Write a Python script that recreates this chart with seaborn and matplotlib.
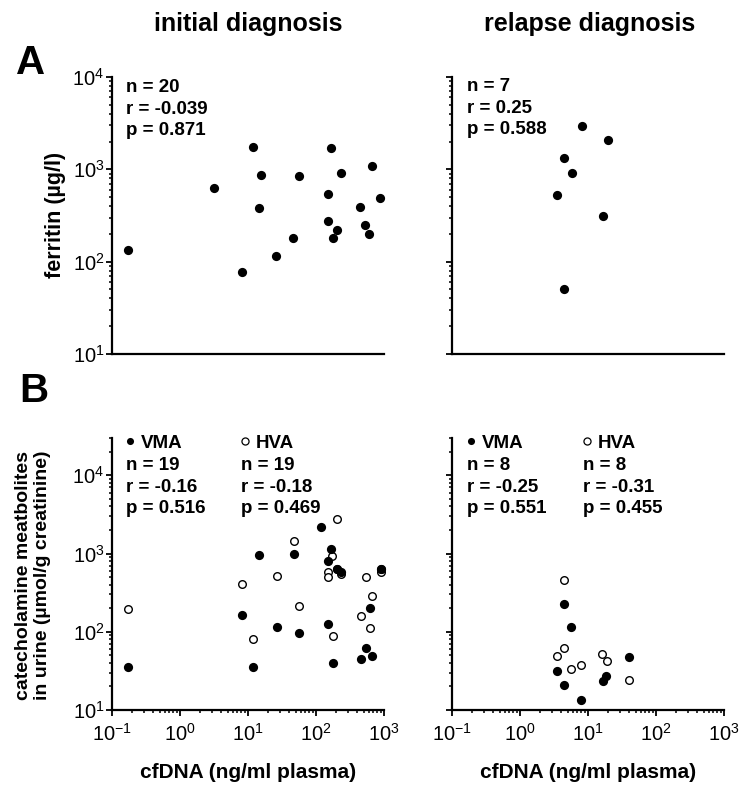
import numpy as np
import pandas as pd
import matplotlib
matplotlib.use("Agg")
import matplotlib.pyplot as plt
from matplotlib import font_manager as fm
from matplotlib.ticker import LogLocator, LogFormatterSciNotation, NullFormatter
import seaborn as sns

# ---------------- data ----------------
# A: ferritin vs cfDNA
init_fer_cfdna = [0.171, 3.2, 8.1, 11.7, 15.6, 14.6, 26, 46, 56, 148,
                  166, 148, 201, 175, 233, 446, 529, 606, 671, 881]
init_fer_value = [133, 631, 77, 1762, 869, 382, 115, 179, 855, 546,
                  1694, 276, 222, 182, 914, 394, 252, 198, 1089, 486]
rel_fer_cfdna = [8.07, 19.5, 4.49, 5.76, 3.5, 16.4, 4.49]
rel_fer_value = [2950, 2100, 1320, 908, 532, 310, 50.6]

# B: urinary catecholamine metabolites vs cfDNA
init_vma_cfdna = [0.173, 8.1, 11.7, 14.7, 26.6, 46.9, 56, 120, 168, 148,
                  201, 233, 148, 180, 903, 614, 547, 456, 671]
init_vma_value = [35.3, 164, 35.3, 968, 116, 997, 95.6, 2190, 1158, 794,
                  632, 578, 126, 39.5, 632, 203, 61.7, 44.5, 49]
init_hva_cfdna = [0.173, 8.1, 11.7, 26.6, 46.9, 56, 203, 170, 151, 151,
                  233, 180, 541, 903, 671, 456, 614, 201, 903]
init_hva_value = [195, 404, 80, 524, 1443, 214, 2750, 940, 578, 508,
                  545, 88, 508, 578, 285, 157, 111, 630, 640]
rel_vma_cfdna = [4.49, 5.68, 3.47, 4.49, 16.4, 18.4, 40, 7.9]
rel_vma_value = [229, 114, 31.3, 20.7, 23.8, 27, 48, 13.5]
rel_hva_cfdna = [4.49, 4.49, 3.47, 5.68, 7.8, 16.2, 18.8, 40]
rel_hva_value = [455, 61.7, 49, 33.6, 37.2, 51.5, 42.3, 24.5]

# correlation statistics printed in each panel
init_fer_stats = ["n = 20", "r = -0.039", "p = 0.871"]
rel_fer_stats = ["n = 7", "r = 0.25", "p = 0.588"]
init_vma_stats = ["n = 19", "r = -0.16", "p = 0.516"]
init_hva_stats = ["n = 19", "r = -0.18", "p = 0.469"]
rel_vma_stats = ["n = 8", "r = -0.25", "p = 0.551"]
rel_hva_stats = ["n = 8", "r = -0.31", "p = 0.455"]

col_titles = ["initial diagnosis", "relapse diagnosis"]
panel_letters = ["A", "B"]
x_label = "cfDNA (ng/ml plasma)"
y_label_a = "ferritin (µg/l)"
y_label_b = "catecholamine meatbolites\nin urine (µmol/g creatinine)"

# ---------------- style ----------------
sns.set_style("ticks")
have_narrow = any(f.name == "Liberation Sans Narrow" for f in fm.fontManager.ttflist)
narrow = ["Liberation Sans Narrow", "Liberation Sans"] if have_narrow else ["Liberation Sans"]
plt.rcParams["font.family"] = narrow
plt.rcParams["mathtext.default"] = "regular"
plt.rcParams["axes.unicode_minus"] = False
plt.rcParams["text.color"] = "black"
plt.rcParams["axes.labelcolor"] = "black"

tick_fs = 17 if have_narrow else 14.5
title_fs = 22 if have_narrow else 18
xlab_fs = 18 if have_narrow else 15
wide = ["Liberation Sans", "DejaVu Sans"]

fig = plt.figure(figsize=(7.45, 7.85), dpi=100)
W, H = 745.0, 785.0


def rect(x0, x1, ytop, ybot):
    return [x0 / W, (H - ybot) / H, (x1 - x0) / W, (ybot - ytop) / H]


ax_tl = fig.add_axes(rect(112, 384, 77, 354))
ax_tr = fig.add_axes(rect(452, 724, 77, 354))
ax_bl = fig.add_axes(rect(112, 384, 438, 710))
ax_br = fig.add_axes(rect(452, 724, 438, 710))

FILL = dict(color="black", s=44, linewidth=0, legend=False)
OPEN = dict(color="white", edgecolor="black", s=30, linewidth=1.0, legend=False)


def draw(ax, xs, ys, style):
    df = pd.DataFrame({"cfDNA": xs, "value": ys})
    sns.scatterplot(data=df, x="cfDNA", y="value", ax=ax, clip_on=False, zorder=3, **style)


draw(ax_tl, init_fer_cfdna, init_fer_value, FILL)
draw(ax_tr, rel_fer_cfdna, rel_fer_value, FILL)
draw(ax_bl, init_hva_cfdna, init_hva_value, OPEN)
draw(ax_bl, init_vma_cfdna, init_vma_value, FILL)
draw(ax_br, rel_hva_cfdna, rel_hva_value, OPEN)
draw(ax_br, rel_vma_cfdna, rel_vma_value, FILL)

for ax, top in [(ax_tl, 1e4), (ax_tr, 1e4), (ax_bl, 3e4), (ax_br, 3e4)]:
    ax.set_xscale("log")
    ax.set_yscale("log")
    ax.set_xlim(0.1, 1000)
    ax.set_ylim(10, top)
    ax.set_xlabel("")
    ax.set_ylabel("")
    ax.patch.set_alpha(0)
    for s in ["top", "right"]:
        ax.spines[s].set_visible(False)
    for s in ["left", "bottom"]:
        ax.spines[s].set_linewidth(1.6)
        ax.spines[s].set_color("black")
    for axis in (ax.xaxis, ax.yaxis):
        axis.set_major_locator(LogLocator(base=10, numticks=12))
        axis.set_minor_locator(LogLocator(base=10, subs=np.arange(2, 10), numticks=12))
        axis.set_minor_formatter(NullFormatter())
    ax.tick_params(which="major", length=4.5, width=1.3, color="black",
                   labelsize=tick_fs, labelcolor="black", direction="out")
    ax.tick_params(which="minor", length=2.5, width=1.1, color="black", direction="out")
    ax.tick_params(axis="y", pad=1)
    ax.tick_params(axis="x", pad=5)
    ax.yaxis.set_major_formatter(LogFormatterSciNotation())
    ax.xaxis.set_major_formatter(LogFormatterSciNotation())

# top row has a bare baseline, bottom row carries the cfDNA axis
for ax in (ax_tl, ax_tr):
    ax.tick_params(axis="x", which="both", length=0, labelbottom=False)
for ax in (ax_tr, ax_br):
    ax.tick_params(axis="y", which="both", labelleft=False)

for ax in (ax_bl, ax_br):
    ax.set_xlabel(x_label, fontsize=xlab_fs, fontweight="bold")
    ax.xaxis.set_label_coords(0.5, -0.228)
    ax.xaxis.label.set_va("center")


def put(ax, txt, dx, dy, **kw):
    ax.annotate(txt, xy=(0, 1), xycoords="axes fraction", xytext=(dx, dy),
                textcoords="offset pixels", ha="left", va="baseline",
                fontsize=13.5, fontweight="bold", family=wide, **kw)


def stats_block(ax, lines, dx, dy0):
    for i, line in enumerate(lines):
        put(ax, line, dx, dy0 - 21.6 * i)


stats_block(ax_tl, init_fer_stats, 14, -15)
stats_block(ax_tr, rel_fer_stats, 15, -14)

for ax, vma, hva, off in [(ax_bl, init_vma_stats, init_hva_stats, 0),
                          (ax_br, rel_vma_stats, rel_hva_stats, 1)]:
    put(ax, "VMA", 29 + off, -10)
    put(ax, "HVA", 144 + off * 2, -10)
    stats_block(ax, vma, 14 + off, -32)
    stats_block(ax, hva, 129 + off * 2, -32)
    trans = ax.transAxes
    ax.scatter([(18 + off) / 272], [1 - 3.0 / 272], s=26, color="black",
               linewidth=0, transform=trans, clip_on=False)
    ax.scatter([(133 + off * 2) / 272], [1 - 3.0 / 272], s=26, color="white",
               edgecolor="black", linewidth=0.9, transform=trans, clip_on=False)

# column titles, panel letters and y labels
fig.text(248 / W, 1 - 24 / H, col_titles[0], ha="center", va="center",
         fontsize=title_fs, fontweight="bold")
fig.text(590 / W, 1 - 24 / H, col_titles[1], ha="center", va="center",
         fontsize=title_fs, fontweight="bold")
fig.text(31 / W, 1 - 63 / H, panel_letters[0], ha="center", va="center",
         fontsize=29, fontweight="bold", family=wide)
fig.text(34 / W, 1 - 391 / H, panel_letters[1], ha="center", va="center",
         fontsize=29, fontweight="bold", family=wide)
fig.text(55 / W, 1 - 215 / H, y_label_a, ha="center", va="center", rotation=90,
         fontsize=15.5, fontweight="bold", family=wide)
fig.text(33 / W, 1 - 575 / H, y_label_b, ha="center", va="center", rotation=90,
         fontsize=14, fontweight="bold", family=wide, linespacing=1.15,
         multialignment="center")

fig.savefig("out.png", dpi=100, facecolor="white")
